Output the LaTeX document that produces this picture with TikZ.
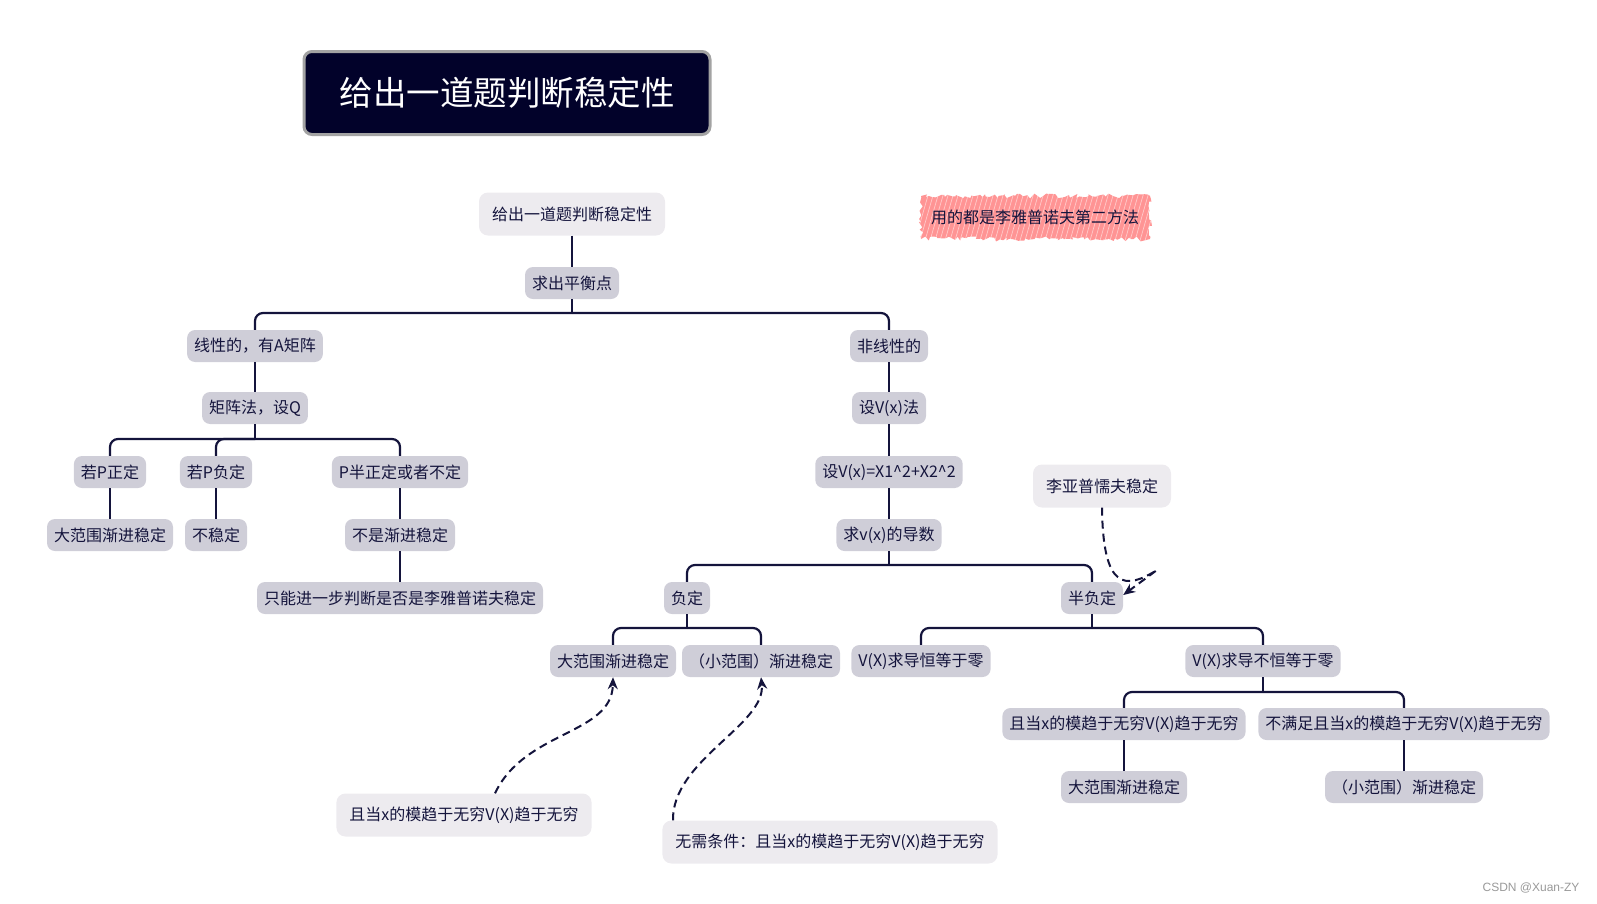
\documentclass[tikz,border=0pt]{standalone}
\usepackage{fontspec}
\usepackage{xcolor}
\usetikzlibrary{arrows.meta,decorations.pathmorphing}

\newfontfamily\cjk{Noto Sans CJK SC}
\newfontfamily\wmfont{Liberation Sans}

\definecolor{ink}{HTML}{14143C}
\definecolor{boxfill}{HTML}{CFCED8}
\definecolor{notefill}{HTML}{EDEBEF}
\definecolor{titlefill}{HTML}{02022A}
\definecolor{titleedge}{HTML}{A3A3A3}
\definecolor{pinkfill}{HTML}{FF9494}

\begin{document}
\begin{tikzpicture}[x=1pt, y=-1pt,
    box/.style={fill=boxfill, text=ink, rounded corners=8pt, inner xsep=7pt, inner ysep=0pt,
                minimum height=32pt, font=\cjk\fontsize{16}{19}\selectfont},
    note/.style={box, fill=notefill, inner xsep=13pt, minimum height=43pt, rounded corners=9pt},
    link/.style={draw=ink, line width=2.2pt, rounded corners=8pt},
    hint/.style={draw=ink, line width=2pt, dash pattern=on 8pt off 5pt,
                 -{Stealth[length=12pt,width=10pt]}}]

    \useasboundingbox (0,0) rectangle (1597,903);

    % ==========================================
    % TITLE
    % ==========================================
    \node[fill=titlefill, draw=titleedge, line width=3pt, rounded corners=8pt,
          minimum width=406pt, minimum height=83pt, text=white,
          font=\cjk\fontsize{33.5}{40}\selectfont] (title) at (507,93) {给出一道题判断稳定性};

    % ==========================================
    % TREE: top
    % ==========================================
    \node[note] (root) at (572,214) {给出一道题判断稳定性};
    \node[box] (eq) at (572,283) {求出平衡点};
    \node[box] (lin) at (255,346) {线性的，有A矩阵};
    \node[box] (nonlin) at (889,346) {非线性的};

    \draw[link] (root.south) -- (eq.north);
    \coordinate (j1) at (572,313);
    \draw[link] (eq.south) -- (j1);
    \draw[link] (j1) -| (lin.north);
    \draw[link] (j1) -| (nonlin.north);

    % ==========================================
    % LEFT BRANCH: linear, matrix method
    % ==========================================
    \node[box] (mat) at (255,408) {矩阵法，设Q};
    \node[box] (ppos) at (110,472) {若P正定};
    \node[box] (pneg) at (216,472) {若P负定};
    \node[box] (psemi) at (400,472) {P半正定或者不定};
    \node[box] (gasA) at (110,535) {大范围渐进稳定};
    \node[box] (unst) at (216,535) {不稳定};
    \node[box] (notas) at (400,535) {不是渐进稳定};
    \node[box] (further) at (400,598) {只能进一步判断是否是李雅普诺夫稳定};

    \draw[link] (lin.south) -- (mat.north);
    \coordinate (j2) at (255,439);
    \draw[link] (mat.south) -- (j2);
    \draw[link] (j2) -| (ppos.north);
    \draw[link] (j2) -| (pneg.north);
    \draw[link] (j2) -| (psemi.north);
    \draw[link] (ppos.south) -- (gasA.north);
    \draw[link] (pneg.south) -- (unst.north);
    \draw[link] (psemi.south) -- (notas.north);
    \draw[link] (notas.south) -- (further.north);

    % ==========================================
    % RIGHT BRANCH: nonlinear, V(x) method
    % ==========================================
    \node[box] (vmeth) at (889,408) {设V(x)法};
    \node[box] (vdef) at (889,472) {设V(x)=X1\textasciicircum2+X2\textasciicircum2};
    \node[box] (deriv) at (889,535) {求v(x)的导数};
    \node[box] (negdef) at (687,598) {负定};
    \node[box] (semidef) at (1092,598) {半负定};
    \node[box] (gasB) at (613,661) {大范围渐进稳定};
    \node[box] (lasB) at (761,661) {（小范围）渐进稳定};
    \node[box] (zero) at (921,661) {V(X)求导恒等于零};
    \node[box] (nonzero) at (1263,661) {V(X)求导不恒等于零};
    \node[box] (radial) at (1124,724) {且当x的模趋于无穷V(X)趋于无穷};
    \node[box] (noradial) at (1404,724) {不满足且当x的模趋于无穷V(X)趋于无穷};
    \node[box] (gasC) at (1124,787) {大范围渐进稳定};
    \node[box] (lasC) at (1404,787) {（小范围）渐进稳定};

    \draw[link] (nonlin.south) -- (vmeth.north);
    \draw[link] (vmeth.south) -- (vdef.north);
    \draw[link] (vdef.south) -- (deriv.north);
    \coordinate (j3) at (889,565);
    \draw[link] (deriv.south) -- (j3);
    \draw[link] (j3) -| (negdef.north);
    \draw[link] (j3) -| (semidef.north);
    \coordinate (j4) at (687,628);
    \draw[link] (negdef.south) -- (j4);
    \draw[link] (j4) -| (gasB.north);
    \draw[link] (j4) -| (lasB.north);
    \coordinate (j5) at (1092,628);
    \draw[link] (semidef.south) -- (j5);
    \draw[link] (j5) -| (zero.north);
    \draw[link] (j5) -| (nonzero.north);
    \coordinate (j6) at (1263,692);
    \draw[link] (nonzero.south) -- (j6);
    \draw[link] (j6) -| (radial.north);
    \draw[link] (j6) -| (noradial.north);
    \draw[link] (radial.south) -- (gasC.north);
    \draw[link] (noradial.south) -- (lasC.north);

    % ==========================================
    % FLOATING NOTES
    % ==========================================
    % pink scribble
    \fill[pinkfill, decorate, decoration={random steps, segment length=3pt, amplitude=2.5pt}]
        (921,196) rectangle (1150,239);
    \begin{scope}
        \clip (917,192) rectangle (1154,243);
        \foreach \i in {0,5,...,236}
            \draw[white, line width=0.7pt, opacity=0.5] (914+\i,244) -- ++(15,-52);
    \end{scope}
    \node[text=ink, font=\cjk\fontsize{16}{19}\selectfont] (pink) at (1035,217) {用的都是李雅普诺夫第二方法};

    \node[note] (noteLy) at (1102,486) {李亚普懦夫稳定};
    \node[note] (noteA) at (464,815) {且当x的模趋于无穷V(X)趋于无穷};
    \node[note] (noteB) at (830,842) {无需条件：且当x的模趋于无穷V(X)趋于无穷};

    \coordinate (lyTurn) at (1157,570);
    \draw[hint] (noteLy.south) .. controls (1103,590) and (1125,590) .. (lyTurn)
        -- ([yshift=3pt]semidef.east);
    \draw[hint] ([xshift=31pt]noteA.north) .. controls (525,730) and (612,735) .. (gasB.south);
    \draw[hint] ([xshift=-157pt]noteB.north) .. controls (672,760) and (766,725) .. (lasB.south);

    % watermark
    \node[anchor=east, text=gray!80, font=\wmfont\fontsize{12}{14}\selectfont] (mark) at (1583,888) {CSDN @Xuan-ZY};

\end{tikzpicture}
\end{document}
